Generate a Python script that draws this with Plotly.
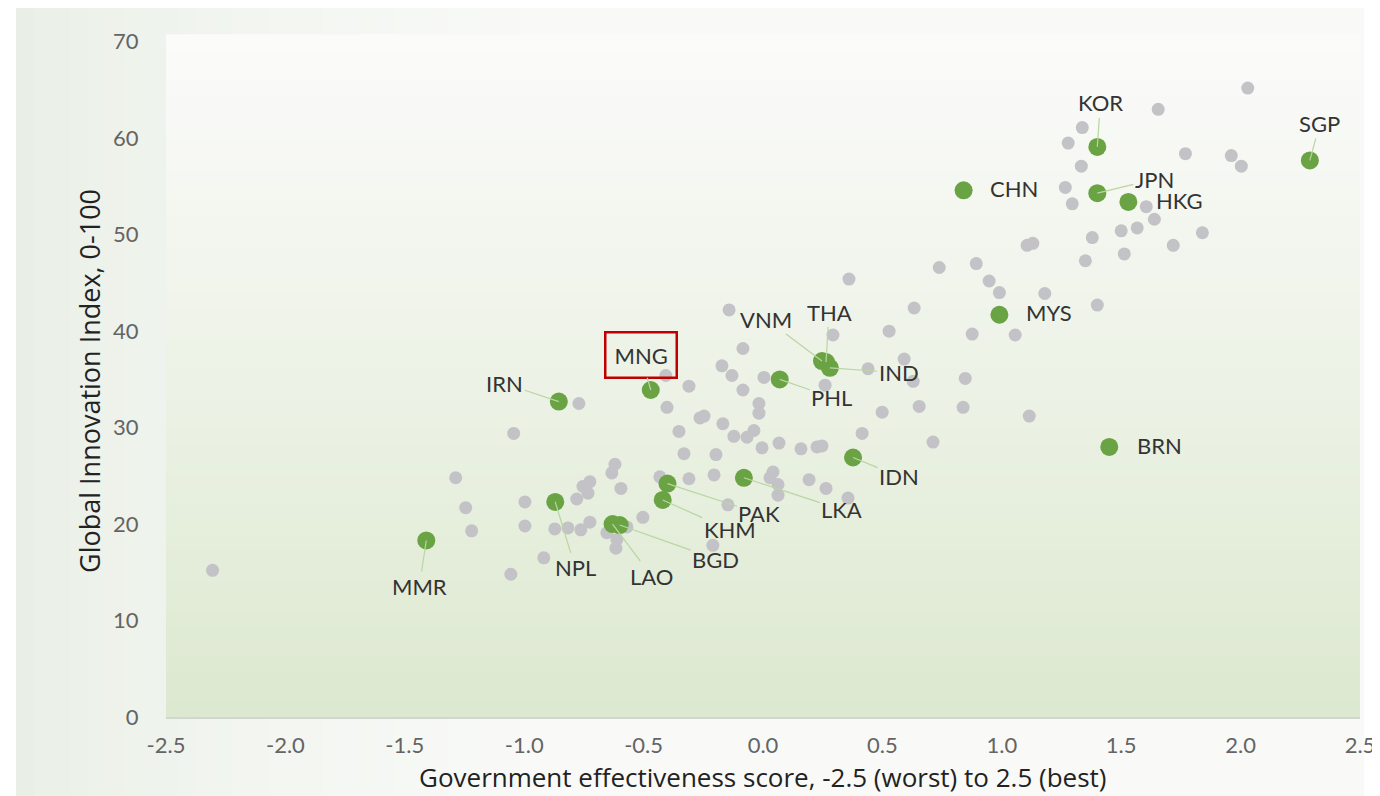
import plotly.graph_objects as go

# grey dots: all other economies
gray_x = [2.03, 1.655, 1.337, 1.278, 1.333, 1.769, 1.961, 2.003, 1.266, 1.295,
          1.605, 1.639, 1.567, 1.50, 1.379, 1.84, 1.718, 1.513, 1.35, 1.106,
          1.13, 0.738, 0.893, 0.947, 0.99, 1.18, 1.40, 0.876, 1.056, 0.847,
          0.838, 1.115, 0.712, 0.36, 0.633, 0.528, 0.293, 0.44, 0.591, 0.629,
          0.26, 0.499, 0.654, 0.415, 0.264, 0.356, -0.142, -0.084, -0.172, -0.13,
          -0.084, 0.004, -0.017, -0.017, -0.407, -0.31, -0.402, -0.264, -0.247, -0.168,
          -0.352, -0.122, -0.067, -0.038, -0.004, 0.067, 0.159, 0.226, 0.247, -0.331,
          -0.197, -0.432, -0.31, -0.205, 0.042, 0.029, 0.063, 0.063, 0.193, -0.503,
          -0.147, -0.21, -0.771, -1.044, -1.287, -1.245, -1.22, -0.997, -0.997, -0.62,
          -0.633, -0.725, -0.754, -0.733, -0.78, -0.595, -0.872, -0.817, -0.763, -0.725,
          -0.918, -1.056, -0.654, -0.612, -0.616, -0.57, -2.305]
gray_y = [65.2, 63.0, 61.1, 59.5, 57.1, 58.4, 58.2, 57.1, 54.9, 53.2,
          52.9, 51.6, 50.7, 50.4, 49.7, 50.2, 48.9, 48.0, 47.3, 48.9,
          49.1, 46.6, 47.0, 45.2, 44.0, 43.9, 42.7, 39.7, 39.6, 35.1,
          32.1, 31.2, 28.5, 45.4, 42.4, 40.0, 39.6, 36.1, 37.1, 34.8,
          34.4, 31.6, 32.2, 29.4, 23.7, 22.7, 42.2, 38.2, 36.4, 35.4,
          33.9, 35.2, 32.5, 31.5, 35.4, 34.3, 32.1, 31.0, 31.2, 30.4,
          29.6, 29.1, 29.0, 29.7, 27.9, 28.4, 27.8, 28.0, 28.1, 27.3,
          27.2, 24.9, 24.7, 25.1, 25.4, 24.8, 24.1, 23.0, 24.6, 20.7,
          22.0, 17.8, 32.5, 29.4, 24.8, 21.7, 19.3, 22.3, 19.8, 26.2,
          25.3, 24.4, 23.9, 23.2, 22.6, 23.7, 19.5, 19.6, 19.4, 20.2,
          16.5, 14.8, 19.1, 18.4, 17.5, 19.7, 15.2]

# green dots: highlighted Asian economies
codes = ["SGP", "KOR", "CHN", "JPN", "HKG", "MYS", "BRN", "THA", "VNM", "IND",
         "PHL", "MNG", "IRN", "IDN", "LKA", "PAK", "KHM", "BGD", "LAO", "NPL", "MMR"]
green_x = [2.29, 1.40, 0.84, 1.40, 1.53, 0.99, 1.45, 0.264, 0.247, 0.28,
           0.07, -0.47, -0.855, 0.377, -0.08, -0.40, -0.42, -0.60, -0.63, -0.87, -1.41]
green_y = [57.7, 59.1, 54.6, 54.3, 53.4, 41.7, 28.0, 36.8, 36.9, 36.2,
           35.0, 33.9, 32.7, 26.9, 24.8, 24.2, 22.5, 19.9, 20.0, 22.3, 18.3]

x_ticks = [-2.5, -2.0, -1.5, -1.0, -0.5, 0.0, 0.5, 1.0, 1.5, 2.0, 2.5]
y_ticks = [0, 10, 20, 30, 40, 50, 60, 70]

# label offsets in pixels (dx, dy, leader line?)
label_pos = {
    "SGP": (10, -37, True), "KOR": (3, -44, True), "CHN": (50, -2, False),
    "JPN": (57, -14, True), "HKG": (51, -1, False), "MYS": (50, -2, False),
    "BRN": (50, -1, False), "THA": (3, -50, True), "VNM": (-56, -42, True),
    "IND": (69, 5, True), "PHL": (52, 18, True), "MNG": (-10, -35, True),
    "IRN": (-54, -18, True), "IDN": (46, 19, True), "LKA": (98, 32, True),
    "PAK": (92, 30, True), "KHM": (67, 30, True), "BGD": (96, 34, True),
    "LAO": (39, 52, True), "NPL": (20, 66, True), "MMR": (-7, 46, True),
}

# the page has an 8px body margin, so the figure is offset by 8px
OFF = 8
W, H = 1372, 788
L, T = 166 - OFF, 35 - OFF
R = W - (1360 - OFF)
B = H - (717 - OFF)
PW, PH = W - L - R, H - T - B


def px_x(p):
    return (p - OFF - L) / PW


def px_y(p):
    return (H - B - (p - OFF)) / PH


def mix(c1, c2, t):
    return "rgb(%d,%d,%d)" % tuple(round(a + (b - a) * t) for a, b in zip(c1, c2))


shapes = []
# soft panel behind the chart, darker on the left edge
n = 30
for i in range(n):
    x0 = 16 + i * 18
    shapes.append(dict(type="rect", xref="paper", yref="paper", layer="below",
                       x0=px_x(x0), x1=px_x(x0 + 19), y0=px_y(800), y1=px_y(8),
                       line=dict(width=0),
                       fillcolor=mix((233, 239, 230), (249, 250, 248), (i / (n - 1)) ** 0.7)))
shapes.append(dict(type="rect", xref="paper", yref="paper", layer="below",
                   x0=px_x(16 + n * 18), x1=px_x(1364), y0=px_y(800), y1=px_y(8),
                   line=dict(width=0), fillcolor="rgb(249,250,248)"))
# plot area vertical gradient
n = 45
for i in range(n):
    shapes.append(dict(type="rect", xref="paper", yref="paper", layer="below",
                       x0=0, x1=1, y0=i / n, y1=(i + 1.05) / n,
                       line=dict(width=0),
                       fillcolor=mix((220, 232, 207), (251, 251, 250), (i / (n - 1)) ** 0.9)))

fig = go.Figure()
fig.add_trace(go.Scatter(x=gray_x, y=gray_y, mode="markers",
                         marker=dict(size=13, color="#c3c2c7", line=dict(width=0)),
                         hoverinfo="skip", showlegend=False))
fig.add_trace(go.Scatter(x=green_x, y=green_y, mode="markers", text=codes,
                         marker=dict(size=18, color="#6aa343", line=dict(width=0)),
                         hovertemplate="%{text}<br>%{x}, %{y}<extra></extra>",
                         showlegend=False))

annotations = []
for c, gx, gy in zip(codes, green_x, green_y):
    dx, dy, lead = label_pos[c]
    a = dict(x=gx, y=gy, xref="x", yref="y", text=c, showarrow=True,
             ax=dx, ay=dy, arrowhead=0, arrowwidth=1.2,
             arrowcolor="#b9d6a2" if lead else "rgba(0,0,0,0)",
             font=dict(family="Lato, Open Sans, sans-serif", size=22, color="#333333"))
    if c == "MNG":
        a.update(bordercolor="#c00000", borderwidth=2.5, borderpad=8)
    annotations.append(a)

annotations.append(dict(xref="paper", yref="paper", x=0.5, y=px_y(777),
                        text="Government effectiveness score, -2.5 (worst) to 2.5 (best)",
                        showarrow=False, xanchor="center", yanchor="middle",
                        font=dict(family="Open Sans, sans-serif", size=26, color="#222")))
annotations.append(dict(xref="paper", yref="paper", x=px_x(89), y=px_y(381),
                        text="Global Innovation Index, 0-100", textangle=-90,
                        showarrow=False, xanchor="center", yanchor="middle",
                        font=dict(family="Open Sans, sans-serif", size=27, color="#222")))

fig.update_layout(
    width=W, height=H,
    margin=dict(l=L, r=R, t=T, b=B, autoexpand=False),
    paper_bgcolor="white", plot_bgcolor="rgba(0,0,0,0)",
    shapes=shapes, annotations=annotations,
    font=dict(family="Lato, sans-serif"),
    xaxis=dict(range=[-2.5, 2.5], tickvals=x_ticks,
               ticktext=["%.1f" % v for v in x_ticks],
               showgrid=False, zeroline=False, showline=True,
               linecolor="#d3d6d0", linewidth=2, automargin=False,
               ticks="outside", ticklen=8, tickcolor="rgba(0,0,0,0)",
               ticklabeloverflow="allow",
               tickfont=dict(size=22, color="#646464")),
    yaxis=dict(range=[0, 70.7], tickvals=y_ticks, automargin=False,
               showgrid=False, zeroline=False, showline=False,
               ticks="outside", ticklen=22, tickcolor="rgba(0,0,0,0)",
               tickfont=dict(size=22, color="#646464")),
)

fig.write_html("out.html")
